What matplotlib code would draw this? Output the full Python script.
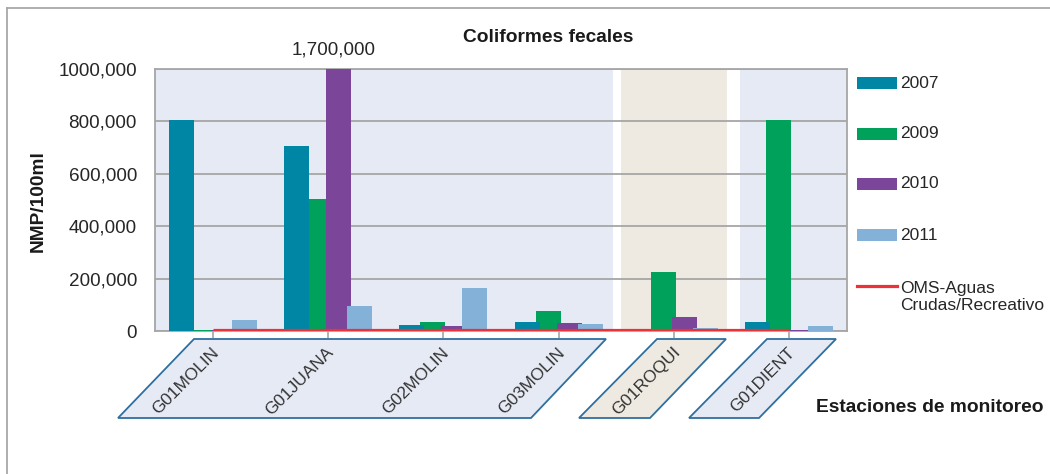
import matplotlib
matplotlib.use("Agg")
import matplotlib.pyplot as plt
import matplotlib.patches as mpatches
import matplotlib.transforms as mtransforms
from matplotlib.lines import Line2D
import numpy as np

plt.rcParams['font.family'] = ['Liberation Sans', 'DejaVu Sans']

# ---------------- data ----------------
stations = ["G01MOLIN", "G01JUANA", "G02MOLIN", "G03MOLIN", "G01ROQUI", "G01DIENT"]
series_names = ["2007", "2009", "2010", "2011"]
v2007 = [805000, 705000, 22000, 35000, 8000, 35000]
v2009 = [3000, 505000, 33000, 77000, 225000, 805000]
v2010 = [2000, 1700000, 20000, 30000, 55000, 3000]
v2011 = [42000, 97000, 165000, 26000, 12000, 20000]
oms_name = "OMS-Aguas\nCrudas/Recreativo"
oms_values = [2000, 2000, 2000, 2000, 2000, 2000]
y_ticks = [0, 200000, 400000, 600000, 800000, 1000000]
y_tick_labels = ["0", "200,000", "400,000", "600,000", "800,000", "1000,000"]
title = "Coliformes fecales"
x_title = "Estaciones de monitoreo"
y_title = "NMP/100ml"

colors = ["#0086A5", "#00A15A", "#7B4599", "#84B1D7"]
zorders = [3.2, 3.0, 3.3, 3.4]
red = "#EE3137"

W, H = 1050, 474
def fx(p):
    return p / W
def fy(p):
    return 1 - p / H

fig = plt.figure(figsize=(W / 100, H / 100), dpi=100)
fig.patch.set_facecolor("white")

# outer frame (left & top only visible)
fig.add_artist(Line2D([fx(7), fx(7)], [fy(8), 0], transform=fig.transFigure, color="#A8A8A8", lw=1.3))
fig.add_artist(Line2D([fx(7), 1], [fy(8), fy(8)], transform=fig.transFigure, color="#A8A8A8", lw=1.3))

ax = fig.add_axes([fx(155), fy(331), (847 - 155) / W, (331 - 69) / H])
ax.set_facecolor("white")
x = np.arange(len(stations))
ax.set_xlim(-0.5, len(stations) - 0.5)
ax.set_ylim(0, 1000000)

# background regions
ax.axvspan(-0.5, 3.471, color="#E6EAF5", zorder=0, lw=0)
ax.axvspan(3.541, 4.46, color="#EEEAE2", zorder=0, lw=0)
ax.axvspan(4.572, 5.5, color="#E6EAF5", zorder=0, lw=0)

ax.set_axisbelow(True)
ax.yaxis.grid(True, color="#A6A6A6", lw=1.3, zorder=0.5)

step = 0.182
width = 0.217
all_vals = [v2007, v2009, v2010, v2011]
for i, (vals, c, name, z) in enumerate(zip(all_vals, colors, series_names, zorders)):
    ax.bar(x + (i - 1.5) * step, vals, width=width, color=c, zorder=z, label=name, lw=0)

ax.plot(x, oms_values, color=red, lw=2.3, zorder=5, solid_capstyle="butt")

for s in ax.spines.values():
    s.set_color("#A6A6A6")
    s.set_linewidth(1.3)

ax.set_yticks(y_ticks)
ax.set_yticklabels(y_tick_labels, fontsize=13.6, color="#262626")
ax.tick_params(axis="y", length=0, pad=13)
ax.set_xticks(x)
ax.set_xticklabels([])
ax.tick_params(axis="x", length=5, color="#A6A6A6", width=1.2, direction="out")

blend = mtransforms.blended_transform_factory(ax.transData, fig.transFigure)

# clipped value label
ax.text(1 + 0.5 * step - 0.04, fy(50), f"{v2010[1]:,}", transform=blend,
        fontsize=13.6, color="#262626", ha="center", va="center")

# parallelogram label boxes (figure pixel coords)
boxes = [
    ([(194, 339), (606, 339), (531, 418), (118, 418)], "#E6EAF5"),
    ([(657, 339), (726, 339), (650, 418), (579, 418)], "#EEEAE2"),
    ([(767, 339), (836, 339), (759, 418), (689, 418)], "#E6EAF5"),
]
for pts, fc in boxes:
    poly = mpatches.Polygon([(fx(a), fy(b)) for a, b in pts], closed=True, transform=fig.transFigure,
                            facecolor=fc, edgecolor="#2F6F9F", lw=1.3, zorder=1)
    fig.add_artist(poly)

for i, name in enumerate(stations):
    fig.text(i + 0.03, fy(350), name, rotation=45, rotation_mode="anchor", ha="right", va="center",
             fontsize=12.4, color="#333333", transform=blend, zorder=3)

# titles
fig.text(fx(548), fy(37), title, fontsize=13.8, fontweight="bold", color="#1a1a1a", ha="center", va="center")
fig.text(fx(816), fy(407), x_title, fontsize=13.8, fontweight="bold", color="#1a1a1a", ha="left", va="center")
fig.text(fx(38), fy(201), y_title, fontsize=13.8, fontweight="bold", color="#1a1a1a", ha="center", va="center", rotation=90)

# legend (manual)
leg_y = [83, 134, 184, 235]
for yy, c, name in zip(leg_y, colors, series_names):
    fig.add_artist(mpatches.Rectangle((fx(857), fy(yy + 6)), 40 / W, 12 / H, transform=fig.transFigure,
                                      facecolor=c, edgecolor="none"))
    fig.text(fx(900), fy(yy), name, fontsize=12.5, color="#262626", ha="left", va="center")
fig.add_artist(Line2D([fx(857), fx(897)], [fy(286), fy(286)], transform=fig.transFigure, color=red, lw=2.3))
fig.text(fx(900), fy(297), oms_name, fontsize=12.5, color="#262626", ha="left", va="center", linespacing=1.25)

fig.savefig("out.png", dpi=100, facecolor="white")
